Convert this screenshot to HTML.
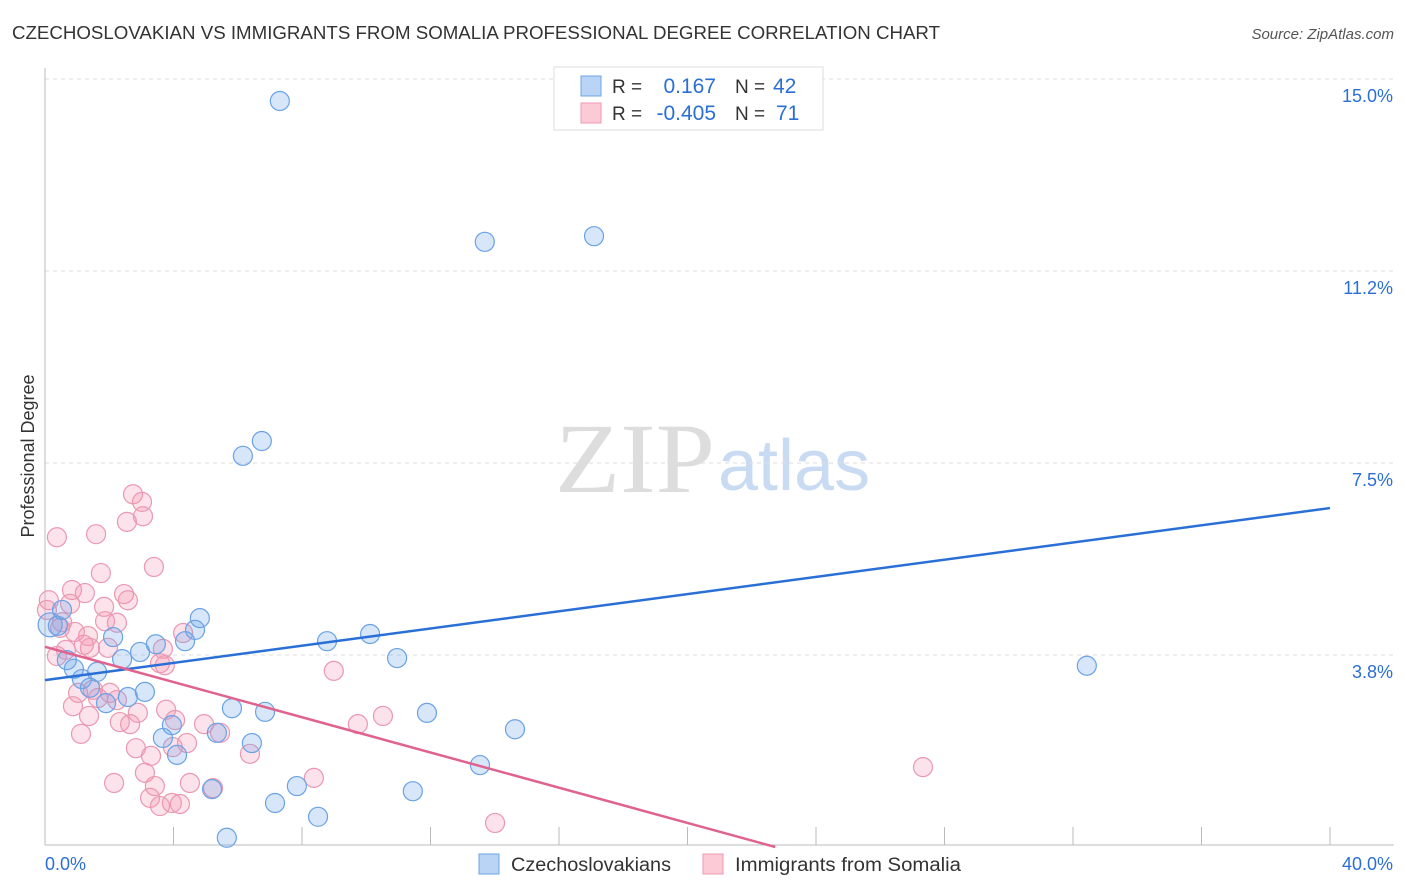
<!DOCTYPE html>
<html><head><meta charset="utf-8"><style>
body{margin:0;background:#fff;font-family:"Liberation Sans",sans-serif;}
svg{display:block}
</style></head><body>
<svg id="c" width="1406" height="892">
<text x="12" y="39" font-size="18" fill="#333" textLength="928" lengthAdjust="spacingAndGlyphs">CZECHOSLOVAKIAN VS IMMIGRANTS FROM SOMALIA PROFESSIONAL DEGREE CORRELATION CHART</text>
<text x="1394" y="39" font-size="15" fill="#555" font-style="italic" text-anchor="end">Source: ZipAtlas.com</text>
<text x="34" y="456" font-size="18" fill="#333" text-anchor="middle" transform="rotate(-90 34 456)">Professional Degree</text>
<g><text x="555" y="492" font-size="100" font-family="Liberation Serif,serif" fill="#ddd" textLength="160" lengthAdjust="spacingAndGlyphs">ZIP</text><text x="718" y="490" font-size="72" fill="#c9dbf2">atlas</text></g>
<g id="grid"></g><g id="axes"></g><g id="marks"></g>
<g>
<rect x="554" y="67" width="269" height="63" fill="#fff" stroke="#ddd"/>
<rect x="581" y="76" width="20" height="20" fill="#b9d4f5" stroke="#6fa3e3"/>
<rect x="581" y="103" width="20" height="20" fill="#fcc9d7" stroke="#ee9ab3"/>
<text x="612" y="93" font-size="19" fill="#333">R =</text><text x="716" y="93" font-size="21" fill="#2a6fd6" text-anchor="end">0.167</text>
<text x="735" y="93" font-size="19" fill="#333">N =</text><text x="773" y="93" font-size="21" fill="#2a6fd6">42</text>
<text x="612" y="120" font-size="19" fill="#333">R =</text><text x="716" y="120" font-size="21" fill="#2a6fd6" text-anchor="end">-0.405</text>
<text x="735" y="120" font-size="19" fill="#333">N =</text><text x="776" y="120" font-size="21" fill="#2a6fd6">71</text>
</g>
<g>
<rect x="479" y="854" width="20" height="20" fill="#b9d4f5" stroke="#6fa3e3"/>
<text x="511" y="871" font-size="19" fill="#333" textLength="160" lengthAdjust="spacingAndGlyphs">Czechoslovakians</text>
<rect x="703" y="854" width="20" height="20" fill="#fcc9d7" stroke="#ee9ab3"/>
<text x="735" y="871" font-size="19" fill="#333" textLength="226" lengthAdjust="spacingAndGlyphs">Immigrants from Somalia</text>
</g>
</svg>
<script>
const yTicks=[15.0,11.25,7.5,3.75];
const yTickLabels=["15.0%","11.2%","7.5%","3.8%"];
const xTickCount=10;
const blueX=[7.31,13.69,17.09,6.75,6.16,32.43,0.16,0.40,0.53,2.12,3.45,2.96,2.40,0.68,0.90,1.62,1.15,1.40,1.90,2.58,3.11,4.36,4.67,4.82,8.78,10.12,10.96,5.82,6.85,11.89,14.63,3.95,3.67,4.11,5.35,6.44,13.54,5.20,7.84,7.16,11.45,8.50,5.66];
const blueY=[14.57,11.82,11.93,7.93,7.64,3.54,4.34,4.32,4.63,4.10,3.96,3.81,3.67,3.65,3.48,3.42,3.28,3.11,2.81,2.93,3.03,4.02,4.24,4.47,4.02,4.16,3.69,2.71,2.64,2.62,2.30,2.38,2.13,1.80,2.23,2.03,1.60,1.13,1.19,0.86,1.09,0.59,0.18];
const pinkX=[0.37,1.59,2.74,3.02,3.05,2.55,3.39,1.74,0.84,1.24,2.46,2.58,1.84,0.78,0.12,0.06,0.53,0.47,1.87,2.24,1.34,0.93,3.67,3.58,3.73,4.30,0.65,0.37,1.40,1.96,8.99,1.03,1.49,2.02,1.65,0.87,1.37,2.24,2.65,2.33,2.89,3.77,4.05,4.95,5.45,1.12,2.83,3.30,3.98,4.42,6.38,9.74,10.52,27.33,3.11,3.42,4.51,5.23,2.15,3.27,3.58,3.95,4.20,8.37,14.01,1.21];
const pinkY=[6.05,6.11,6.89,6.74,6.46,6.35,5.47,5.35,5.02,4.96,4.94,4.82,4.69,4.75,4.82,4.63,4.39,4.28,4.41,4.38,4.12,4.20,3.87,3.59,3.55,4.18,3.85,3.73,3.89,3.89,3.44,3.01,3.07,3.01,2.91,2.75,2.56,2.87,2.40,2.44,2.62,2.68,2.48,2.40,2.23,2.21,1.93,1.78,1.95,2.03,1.82,2.40,2.56,1.56,1.45,1.19,1.25,1.15,1.25,0.96,0.80,0.86,0.84,1.35,0.47,3.95];
const blueTrend=[3.26,6.62];
const pinkTrend=[3.91,-0.172];
const NS="http://www.w3.org/2000/svg";
const X=v=>45+v*32.125, Y=v=>847-v*51.2;
function mk(t,a,p){const e=document.createElementNS(NS,t);for(const k in a)e.setAttribute(k,a[k]);p.appendChild(e);return e;}
const grid=document.getElementById('grid'),axes=document.getElementById('axes'),marks=document.getElementById('marks');
yTicks.forEach((t,i)=>{
 const l=mk('line',{x1:45,x2:1394,y1:Y(t),y2:Y(t),stroke:'#ddd','stroke-dasharray':'4 4'},grid);
 
 
 const tx=mk('text',{x:1393,y:Y(t)+23,'font-size':18,fill:'#2a6fd6','text-anchor':'end'},grid);
 tx.textContent=yTickLabels[i];
 
 
});
mk('line',{x1:45,x2:45,y1:68,y2:845,stroke:'#bbb'},axes);
mk('line',{x1:45,x2:1394,y1:845,y2:845,stroke:'#bbb'},axes);
for(let i=1;i<=xTickCount;i++){const t=mk('line',{x1:X(i*4),x2:X(i*4),y1:827,y2:845,stroke:'#bbb'},axes);
 
 }
const xl0=mk('text',{x:45,y:870,'font-size':18,fill:'#2a6fd6'},axes);xl0.textContent='0.0%';


const xl1=mk('text',{x:1393,y:870,'font-size':18,fill:'#2a6fd6','text-anchor':'end'},axes);xl1.textContent='40.0%';


pinkX.forEach((x,i)=>{const c=mk('circle',{cx:X(x),cy:Y(pinkY[i]),r:9.5,fill:'rgba(244,150,180,0.28)',stroke:'#eb98b2','stroke-width':1.2},marks);
 
 });
blueX.forEach((x,i)=>{const c=mk('circle',{cx:X(x),cy:Y(blueY[i]),r:i==6?12:9.5,fill:'rgba(110,165,235,0.28)',stroke:'#6aa2e6','stroke-width':1.2},marks);
 
 });
const bl=mk('line',{x1:X(0),y1:Y(blueTrend[0]),x2:X(40),y2:Y(blueTrend[1]),stroke:'#2a6fd6','stroke-width':2.5},marks);


const xe=-pinkTrend[0]/pinkTrend[1];
const pl=mk('line',{x1:X(0),y1:Y(pinkTrend[0]),x2:X(xe),y2:Y(0),stroke:'#e0628e','stroke-width':2.5},marks);


</script>
</body></html>
